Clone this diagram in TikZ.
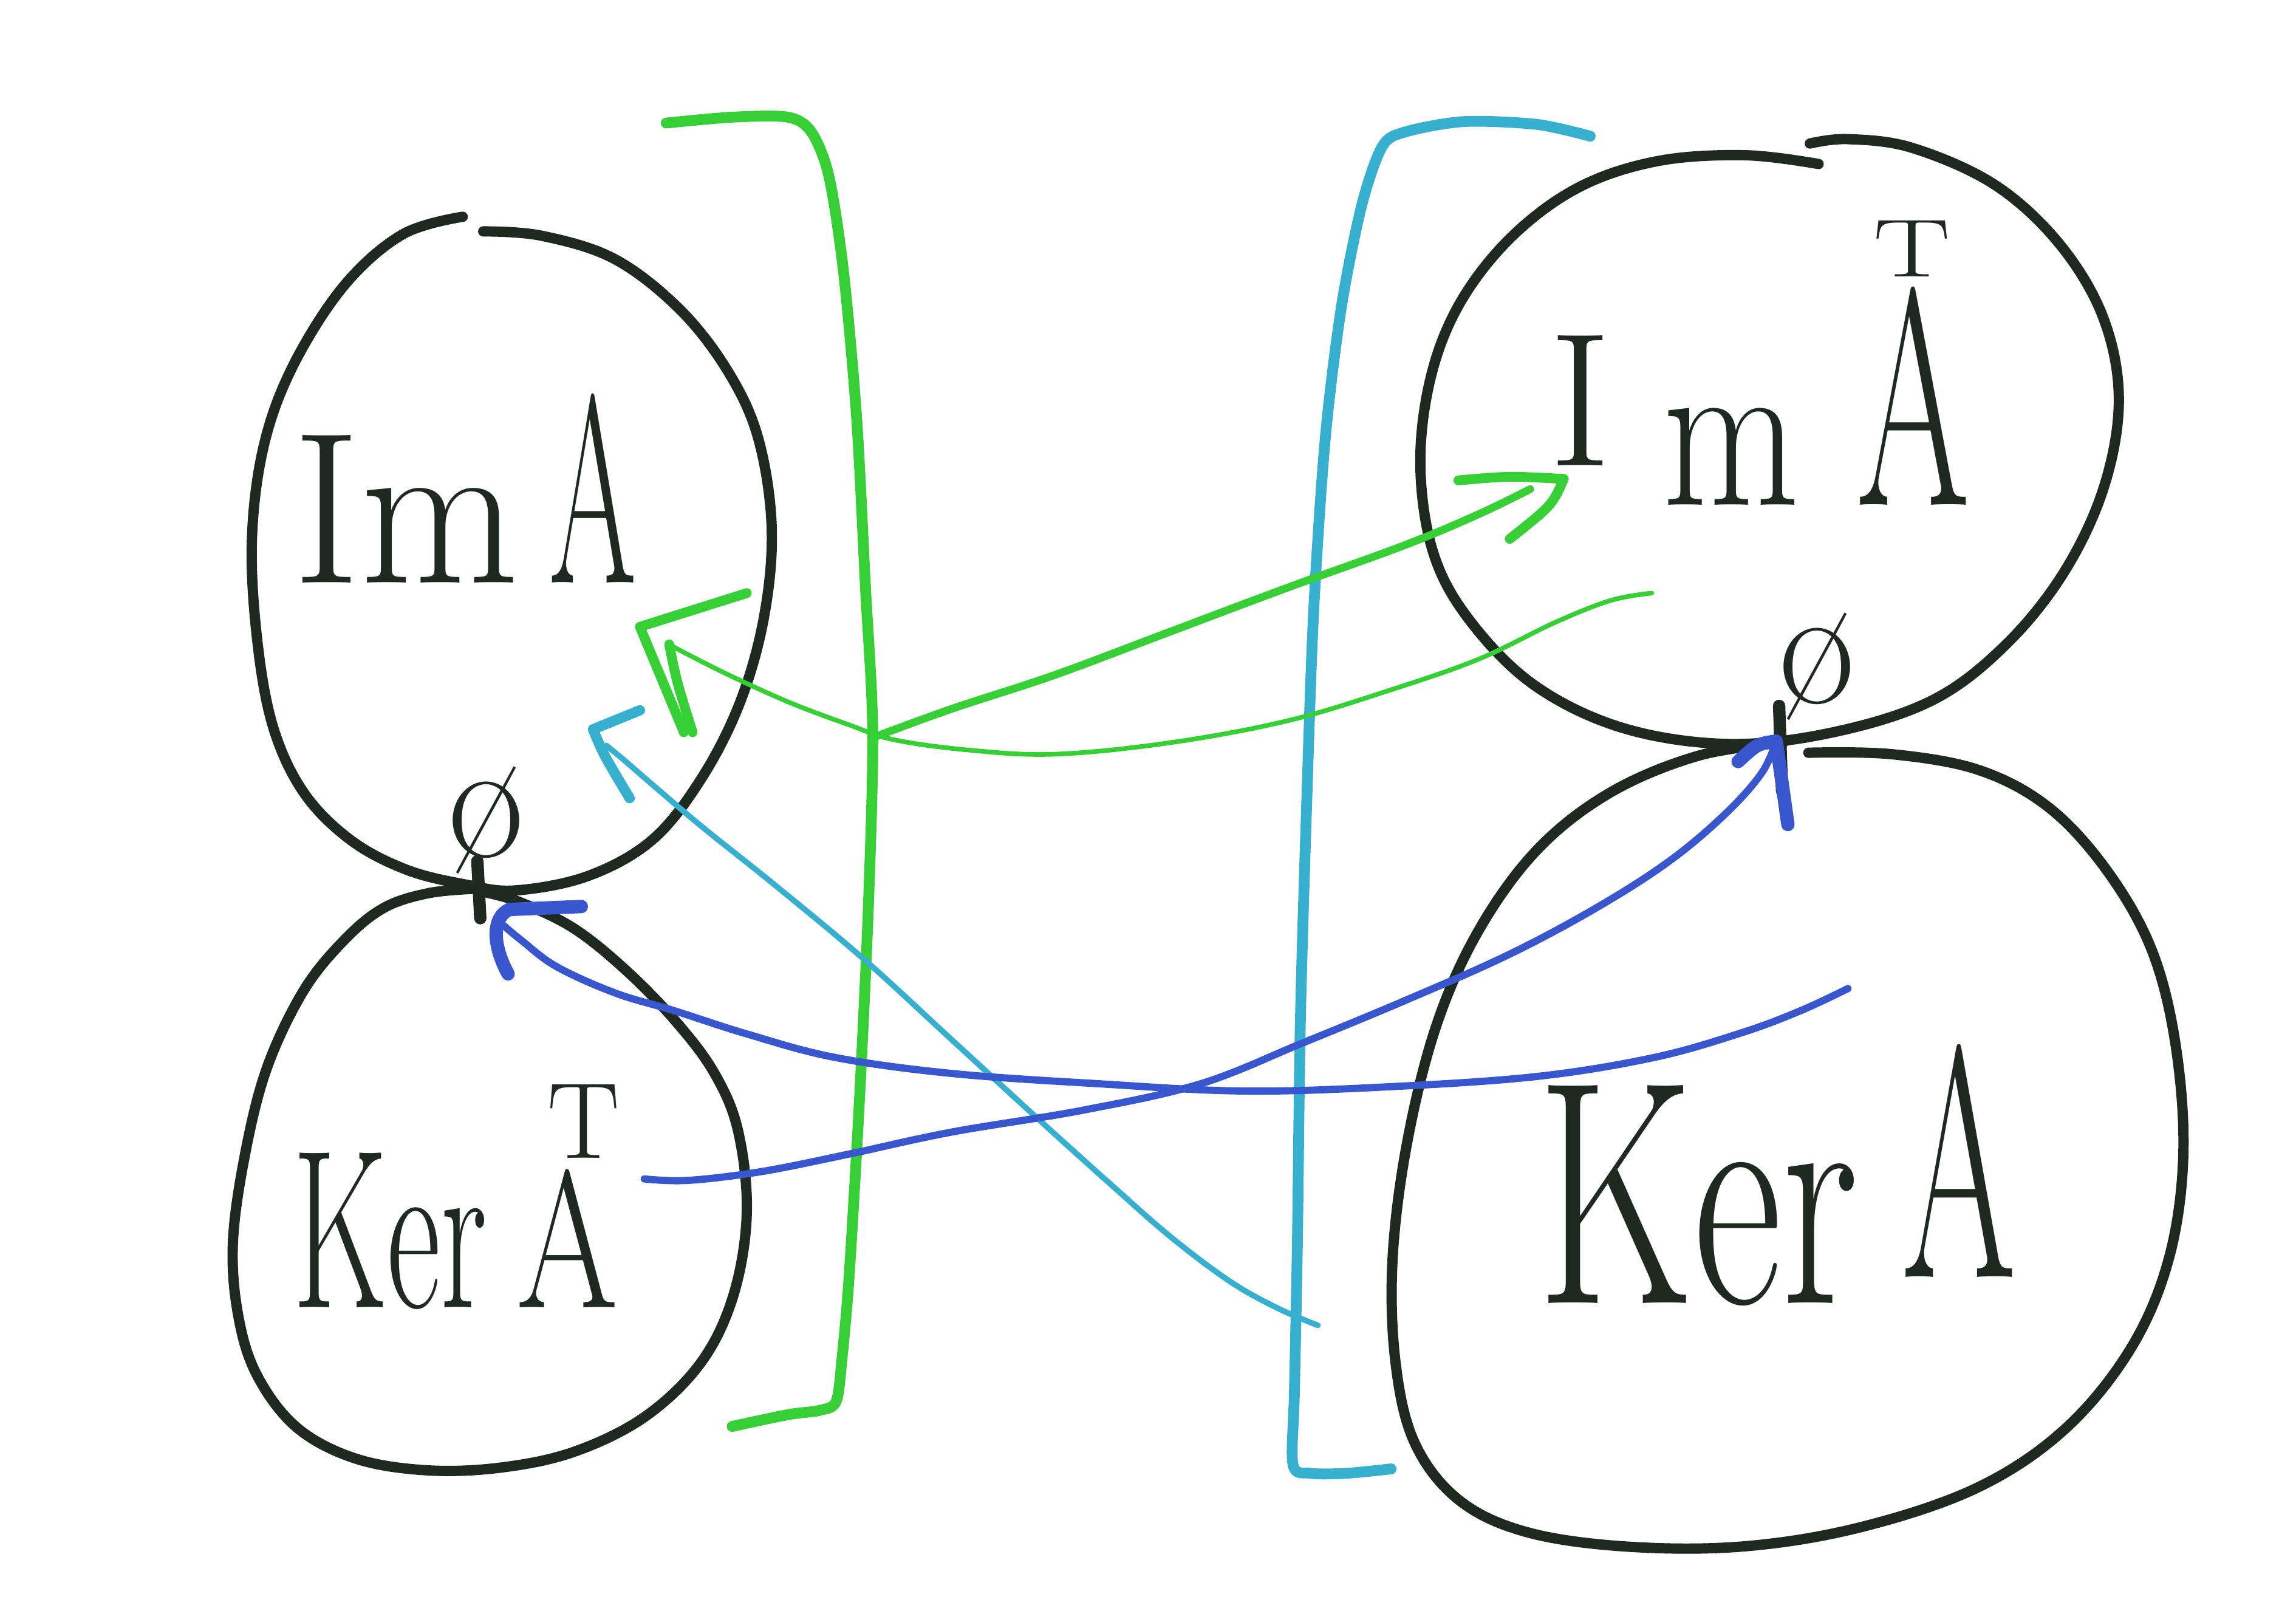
\documentclass[tikz,border=0pt]{standalone}
\usepackage{fontspec}
\usepackage{graphicx}
\definecolor{ink}{RGB}{30,42,32}
\definecolor{pgreen}{RGB}{54,207,54}
\definecolor{pcyan}{RGB}{54,176,206}
\definecolor{pblue}{RGB}{56,86,206}
\tikzset{
  blob/.style={draw=ink,line width=2pt,line cap=round,line join=round},
  gbracket/.style={draw=pgreen,line width=2.1pt,line cap=round,line join=round},
  cbracket/.style={draw=pcyan,line width=2.1pt,line cap=round,line join=round},
  gthick/.style={draw=pgreen,line width=1.5pt,line cap=round,line join=round},
  gthin/.style={draw=pgreen,line width=0.9pt,line cap=round,line join=round},
  ghead/.style={draw=pgreen,line width=1.9pt,line cap=round,line join=round},
  cshaft/.style={draw=pcyan,line width=1.1pt,line cap=round,line join=round},
  chead/.style={draw=pcyan,line width=2pt,line cap=round,line join=round},
  bshaft/.style={draw=pblue,line width=1.4pt,line cap=round,line join=round},
  bhead/.style={draw=pblue,line width=2.6pt,line cap=round,line join=round},
  stem/.style={draw=ink,line width=2.4pt,line cap=round},
  lbl/.style={inner sep=0pt,outer sep=0pt,text=ink,anchor=base west},
  zero/.style={inner sep=0pt,outer sep=0pt,text=ink,font=\fontsize{33}{33}\selectfont}
}
\begin{document}
\begin{tikzpicture}[x=0.1mm,y=-0.1mm]
\useasboundingbox (0,0) rectangle (1568,1098);

% ---- blobs ----
\draw[blob] plot[smooth,tension=0.6] coordinates {(330,158) (370,161) (420,177) (465,212) (498,255) (518,300) (527,360) (522,420) (506,478) (480,530) (446,573) (402,598) (352,608) (318,604) (278,594) (240,574) (208,542) (187,498) (176,440) (172,370) (180,305) (200,250) (235,195) (275,160) (316,148)};
\draw[blob] plot[smooth,tension=0.6] coordinates {(322,607) (292,610) (262,620) (235,642) (207,677) (182,730) (167,790) (159,850) (163,900) (176,940) (203,975) (243,996) (292,1004) (343,1002) (393,991) (441,967) (479,930) (501,884) (510,828) (504,772) (488,733) (462,698) (428,663) (392,634) (355,616) (330,609)};
\draw[blob] plot[smooth,tension=0.6] coordinates {(1242,112) (1192,106) (1132,110) (1078,128) (1032,162) (997,207) (977,258) (970,318) (979,378) (1004,424) (1048,468) (1108,497) (1180,508) (1252,500) (1320,478) (1370,440) (1410,390) (1437,332) (1447,272) (1436,216) (1406,166) (1362,126) (1306,101) (1262,95) (1236,98)};
\draw[blob] plot[smooth,tension=0.6] coordinates {(1218,507) (1160,516) (1100,541) (1050,580) (1010,635) (981,700) (961,780) (951,860) (953,930) (966,985) (996,1024) (1042,1046) (1110,1056) (1190,1056) (1270,1043) (1350,1016) (1410,976) (1455,921) (1481,860) (1491,790) (1486,715) (1470,650) (1440,596) (1400,552) (1352,526) (1292,515) (1235,514)};

% ---- brackets ----
\draw[gbracket] plot[smooth,tension=0.5] coordinates {(455,84) (500,80) (538,80) (554,90) (566,120) (576,185) (585,285) (591,400) (596,500) (593,620) (587,750) (580,870) (575,928) (571,957) (560,963) (538,966) (500,974)};
\draw[cbracket] plot[smooth,tension=0.5] coordinates {(1086,93) (1050,85) (1000,83) (960,90) (944,100) (930,140) (916,210) (905,300) (897,420) (892,560) (888,700) (886,850) (884,950) (883,1000) (895,1006) (920,1006) (950,1003)};

% ---- labels ----
\node[lbl] (imA) at (200,398) {\scalebox{0.95}[1]{\fontsize{42}{42}\selectfont Im}\hspace{2.1mm}\scalebox{0.47}[1]{\fontsize{52}{52}\selectfont A}};
\node[lbl] (imAT) at (1058,345) {\raisebox{2.7mm}{\fontsize{37}{37}\selectfont I}\hspace{3.5mm}\scalebox{0.8}[1]{\fontsize{43}{43}\selectfont m}\hspace{3.9mm}\scalebox{0.53}[1]{\fontsize{60}{60}\selectfont A}\hspace{-6.6mm}\raisebox{15.6mm}{\scalebox{1.4}[1]{\fontsize{16}{16}\selectfont T}}};
\node[lbl] (kerAT) at (200,893) {\scalebox{0.58}[1]{\fontsize{44}{44}\selectfont Ker}\hspace{2mm}\scalebox{0.75}[1]{\fontsize{38}{38}\selectfont A}\hspace{-4.8mm}\raisebox{10.2mm}{\fontsize{21}{21}\selectfont T}};
\node[lbl] (kerA) at (1050,890) {\scalebox{0.68}[1]{\fontsize{62}{62}\selectfont Ker}\hspace{3mm}\raisebox{1.8mm}{\scalebox{0.5}[1]{\fontsize{64}{64}\selectfont A}}};

% ---- zero vectors and junction points ----
\node[zero] (zeroL) at (332,560) {\o};
\node[zero] (zeroR) at (1241,455) {\o};
\coordinate (ptLtop) at (326,588);
\coordinate (ptL) at (328,627);
\coordinate (ptRtop) at (1215,482);
\coordinate (ptR) at (1217,540);
\draw[stem] (ptLtop) -- (ptL);
\draw[stem] (ptRtop) -- (ptR);

% ---- green: whole space -> Im A^T ----
\coordinate (gTail) at (598,503);
\coordinate (gEnd) at (1045,334);
\coordinate (gTip) at (1068,327);
\draw[gthick] plot[smooth,tension=0.6] coordinates {(gTail) (650,484) (720,461) (800,431) (880,401) (960,372) (1010,351) (gEnd)};
\draw[ghead] (996,328) .. controls (1030,325) .. (gTip) .. controls (1060,345) .. (1031,368);

% ---- green: Im A^T -> Im A ----
\coordinate (hTail) at (1128,405);
\coordinate (hEnd) at (457,440);
\coordinate (hTip) at (437,428);
\draw[gthin] plot[smooth,tension=0.6] coordinates {(hTail) (1100,410) (1062,425) (1010,450) (950,471) (880,492) (800,507) (720,515) (660,512) (610,505) (580,495) (540,480) (500,462) (470,447) (hEnd)};
\draw[ghead] (hEnd) .. controls (462,465) .. (473,500);
\draw[ghead] (510,405) -- (hTip) -- (467,500);

% ---- cyan: whole space -> Im A ----
\coordinate (cTail) at (900,905);
\coordinate (cEnd) at (414,509);
\coordinate (cTip) at (405,498);
\draw[cshaft] plot[smooth,tension=0.6] coordinates {(cTail) (872,893) (840,875) (800,845) (760,810) (710,765) (650,710) (590,655) (530,605) (480,565) (447,537) (425,518) (cEnd)};
\draw[chead] (437,485) -- (cTip) .. controls (412,515) .. (430,545);

% ---- blue: Ker A -> 0 ----
\coordinate (bTail) at (1262,675);
\coordinate (bEnd) at (344,632);
\draw[bshaft] plot[smooth,tension=0.6] coordinates {(bTail) (1230,690) (1190,705) (1130,722) (1050,735) (950,742) (850,745) (750,740) (650,733) (570,722) (510,706) (460,690) (420,678) (380,660) (356,642) (bEnd)};
\draw[bhead] (397,619) -- (348,621) .. controls (336,626) and (336,645) .. (347,665);

% ---- blue: Ker A^T -> 0 ----
\coordinate (dTail) at (440,805);
\coordinate (dEnd) at (1213,506);
\draw[bshaft] plot[smooth,tension=0.6] coordinates {(dTail) (470,806) (520,800) (580,788) (650,773) (740,758) (820,740) (890,712) (960,683) (1030,652) (1090,620) (1140,588) (1178,556) (1203,528) (dEnd)};
\draw[bhead] (1187,520) .. controls (1200,508) .. (dEnd) -- (1221,563);
\end{tikzpicture}
\end{document}
